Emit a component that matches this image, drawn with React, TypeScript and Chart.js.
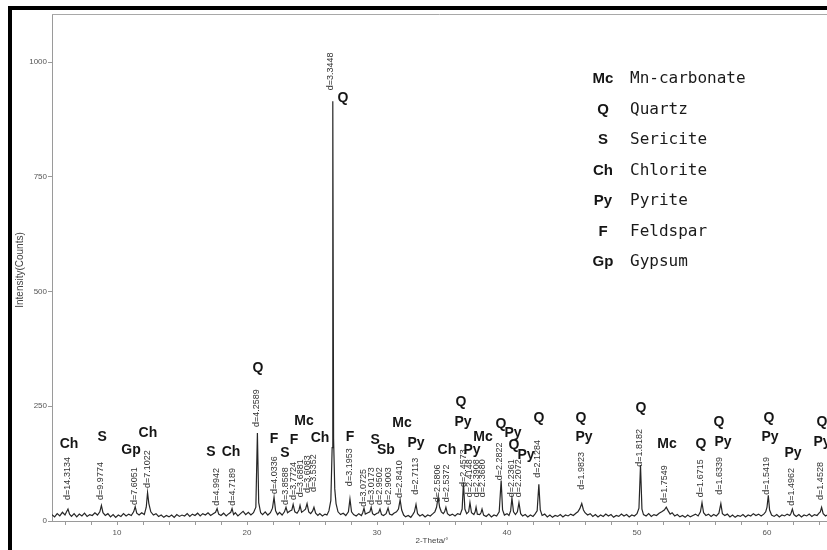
import React, { useEffect, useRef } from 'react';
import { Chart, registerables } from 'chart.js';

Chart.register(...registerables);

// XRD pattern: [2-theta (deg), intensity (counts)]
const xrdPattern: [number, number][] = [
  [5.0, 14], [5.2, 9], [5.4, 16], [5.6, 11], [5.8, 19], [6.0, 13], [6.12, 20], [6.23, 26], [6.35, 15], [6.5, 10],
  [6.7, 16], [6.9, 9], [7.1, 15], [7.3, 11], [7.5, 17], [7.7, 10], [7.9, 14], [8.1, 12], [8.3, 18], [8.5, 13],
  [8.68, 20], [8.8, 34], [8.92, 18], [9.1, 12], [9.3, 16], [9.5, 9], [9.7, 14], [9.9, 8], [10.1, 13], [10.3, 10],
  [10.5, 16], [10.7, 11], [10.9, 15], [11.1, 12], [11.28, 20], [11.4, 31], [11.52, 17], [11.7, 13], [11.9, 18], [12.1, 14],
  [12.25, 30], [12.35, 62], [12.45, 38], [12.6, 20], [12.8, 13], [13.0, 16], [13.2, 10], [13.4, 13], [13.6, 8], [13.8, 12],
  [14.0, 9], [14.2, 13], [14.4, 8], [14.6, 14], [14.8, 10], [15.0, 13], [15.2, 11], [15.4, 16], [15.6, 10], [15.8, 15],
  [16.0, 12], [16.2, 17], [16.4, 11], [16.6, 16], [16.8, 13], [17.0, 18], [17.2, 12], [17.4, 16], [17.58, 19], [17.7, 27],
  [17.82, 15], [18.0, 12], [18.2, 17], [18.4, 11], [18.6, 16], [18.75, 19], [18.85, 27], [18.97, 14], [19.1, 18], [19.3, 11],
  [19.5, 16], [19.7, 21], [19.9, 14], [20.1, 19], [20.3, 13], [20.5, 18], [20.68, 30], [20.8, 192], [20.9, 40], [21.05, 18],
  [21.2, 14], [21.4, 20], [21.6, 13], [21.8, 18], [21.96, 28], [22.08, 52], [22.2, 22], [22.35, 14], [22.5, 19], [22.7, 13],
  [22.88, 20], [23.0, 30], [23.12, 18], [23.3, 22], [23.45, 24], [23.55, 36], [23.68, 20], [23.85, 17], [24.0, 24], [24.08, 34],
  [24.2, 19], [24.35, 22], [24.5, 26], [24.62, 38], [24.75, 20], [24.9, 16], [25.05, 22], [25.15, 30], [25.28, 17], [25.45, 12],
  [25.6, 16], [25.8, 11], [26.0, 15], [26.15, 13], [26.3, 22], [26.45, 45], [26.55, 160], [26.6, 915], [26.66, 180], [26.75, 70],
  [26.85, 38], [27.0, 20], [27.2, 14], [27.4, 17], [27.6, 12], [27.8, 20], [27.92, 48], [28.04, 20], [28.2, 14], [28.4, 11],
  [28.6, 16], [28.8, 12], [28.9, 18], [29.0, 28], [29.1, 15], [29.3, 18], [29.45, 20], [29.55, 30], [29.66, 16], [29.8, 13],
  [30.0, 17], [30.12, 18], [30.23, 26], [30.35, 14], [30.5, 12], [30.7, 16], [30.85, 28], [30.97, 15], [31.15, 13], [31.3, 17],
  [31.5, 20], [31.65, 26], [31.78, 46], [31.9, 24], [32.05, 13], [32.2, 9], [32.4, 12], [32.6, 8], [32.75, 14], [32.88, 20],
  [33.0, 36], [33.12, 16], [33.3, 11], [33.5, 14], [33.7, 9], [33.9, 13], [34.1, 11], [34.3, 16], [34.45, 20], [34.58, 30],
  [34.7, 52], [34.82, 30], [34.95, 20], [35.1, 16], [35.2, 20], [35.3, 30], [35.42, 16], [35.6, 12], [35.8, 15], [36.0, 11],
  [36.2, 16], [36.4, 14], [36.55, 26], [36.65, 84], [36.76, 26], [36.9, 16], [37.05, 20], [37.15, 40], [37.27, 18], [37.45, 14],
  [37.55, 20], [37.62, 30], [37.72, 15], [37.9, 14], [38.0, 18], [38.08, 26], [38.2, 13], [38.4, 10], [38.6, 15], [38.8, 9],
  [39.0, 13], [39.2, 11], [39.4, 20], [39.55, 88], [39.66, 24], [39.8, 13], [40.0, 16], [40.15, 12], [40.28, 22], [40.38, 50],
  [40.5, 20], [40.65, 14], [40.8, 20], [40.92, 40], [41.05, 16], [41.2, 11], [41.4, 14], [41.6, 9], [41.8, 13], [42.0, 10],
  [42.15, 15], [42.32, 22], [42.45, 80], [42.56, 24], [42.7, 12], [42.9, 15], [43.1, 9], [43.3, 13], [43.5, 8], [43.7, 12],
  [43.9, 10], [44.1, 14], [44.3, 9], [44.5, 13], [44.7, 11], [44.9, 15], [45.1, 12], [45.3, 17], [45.45, 20], [45.6, 27],
  [45.75, 38], [45.88, 24], [46.0, 18], [46.2, 13], [46.4, 16], [46.6, 10], [46.8, 14], [47.0, 9], [47.2, 13], [47.4, 10],
  [47.6, 15], [47.8, 11], [48.0, 14], [48.2, 8], [48.4, 12], [48.6, 10], [48.8, 15], [49.0, 11], [49.2, 14], [49.4, 9],
  [49.6, 13], [49.8, 11], [50.0, 16], [50.15, 28], [50.27, 122], [50.38, 26], [50.5, 14], [50.7, 11], [50.9, 16], [51.1, 10],
  [51.3, 14], [51.5, 12], [51.7, 17], [51.9, 20], [52.1, 24], [52.25, 30], [52.4, 22], [52.55, 15], [52.7, 18], [52.9, 11],
  [53.1, 14], [53.3, 9], [53.5, 12], [53.7, 8], [53.9, 13], [54.1, 9], [54.3, 12], [54.5, 15], [54.7, 11], [54.88, 20],
  [55.0, 40], [55.12, 18], [55.3, 12], [55.5, 15], [55.7, 10], [55.9, 14], [56.1, 11], [56.3, 17], [56.45, 38], [56.57, 16],
  [56.75, 12], [56.95, 15], [57.15, 9], [57.35, 13], [57.55, 8], [57.75, 12], [57.95, 10], [58.15, 14], [58.35, 9], [58.55, 13],
  [58.75, 11], [58.95, 16], [59.15, 12], [59.35, 15], [59.55, 11], [59.75, 15], [59.9, 20], [60.0, 30], [60.1, 56], [60.2, 24],
  [60.35, 13], [60.55, 10], [60.75, 14], [60.95, 9], [61.15, 13], [61.35, 11], [61.55, 15], [61.75, 12], [61.85, 17], [61.95, 26],
  [62.07, 14], [62.25, 10], [62.45, 14], [62.65, 9], [62.85, 13], [63.05, 11], [63.25, 15], [63.45, 10], [63.65, 14], [63.85, 12],
  [64.0, 17], [64.1, 20], [64.2, 30], [64.32, 16], [64.5, 11], [64.7, 14],
];

const xTickValues = [6, 8, 10, 12, 14, 16, 18, 20, 22, 24, 26, 28, 30, 32, 34, 36, 38, 40, 42, 44, 46, 48, 50, 52, 54, 56, 58, 60, 62, 64];
const xLabelValues = [10, 20, 30, 40, 50, 60];
const yTickValues = [0, 250, 500, 750, 1000];

// d-spacing labels: [2-theta, count at text start, text]
const dLabels: [number, number, string][] = [
  [6.23, 46, 'd=14.3134'], [8.77, 46, 'd=9.9774'], [11.38, 35, 'd=7.6051'], [12.31, 72, 'd=7.1022'],
  [17.69, 33, 'd=4.9942'], [18.85, 33, 'd=4.7189'], [20.77, 205, 'd=4.2589'], [22.08, 59, 'd=4.0336'],
  [23.0, 35, 'd=3.8588'], [23.54, 46, 'd=3.7724'], [24.08, 52, 'd=3.6881'], [24.62, 61, 'd=3.6083'], [25.15, 63, 'd=3.5352'],
  [26.46, 939, 'd=3.3448'], [27.92, 76, 'd=3.1953'],
  [29.0, 31, 'd=3.0725'], [29.54, 35, 'd=3.0173'], [30.23, 35, 'd=2.9502'], [30.85, 35, 'd=2.9003'],
  [31.77, 50, 'd=2.8410'], [33.0, 57, 'd=2.7113'], [34.69, 41, 'd=2.5806'], [35.31, 41, 'd=2.5372'],
  [36.62, 74, 'd=2.4573'], [37.15, 52, 'd=2.4148'], [37.62, 52, 'd=2.3908'], [38.08, 52, 'd=2.3680'],
  [39.46, 89, 'd=2.2822'], [40.38, 52, 'd=2.2361'], [40.92, 52, 'd=2.2072'], [42.38, 94, 'd=2.1284'],
  [45.77, 68, 'd=1.9823'], [50.23, 118, 'd=1.8182'], [52.15, 39, 'd=1.7549'], [54.92, 52, 'd=1.6715'],
  [56.38, 57, 'd=1.6339'], [60.0, 57, 'd=1.5419'], [61.92, 33, 'd=1.4962'], [64.08, 46, 'd=1.4528'],
];

// phase tags: [code, 2-theta, count level]
const phaseTags: [string, number, number][] = [
  ['Ch', 6.31, 168], ['S', 8.85, 183], ['Gp', 11.08, 155], ['Ch', 12.38, 192],
  ['S', 17.23, 150], ['Ch', 18.77, 150], ['Q', 20.85, 333], ['F', 22.08, 179],
  ['S', 22.92, 148], ['F', 23.62, 176], ['Mc', 24.38, 218], ['Ch', 25.62, 181],
  ['Q', 27.38, 922], ['F', 27.92, 183], ['S', 29.85, 176], ['Sb', 30.69, 155],
  ['Mc', 31.92, 214], ['Py', 33.0, 170], ['Ch', 35.38, 155], ['Q', 36.46, 259],
  ['Py', 36.62, 216], ['Py', 37.31, 155], ['Mc', 38.15, 183], ['Q', 39.54, 211],
  ['Py', 40.46, 192], ['Q', 40.54, 166], ['Py', 41.46, 144], ['Q', 42.46, 224],
  ['Q', 45.69, 224], ['Py', 45.92, 183], ['Q', 50.31, 246], ['Mc', 52.31, 168],
  ['Q', 54.92, 168], ['Q', 56.31, 216], ['Py', 56.62, 172], ['Q', 60.15, 224],
  ['Py', 60.23, 183], ['Py', 62.0, 148], ['Q', 64.23, 216], ['Py', 64.23, 172],
];

const legendCodes = ['Mc', 'Q', 'S', 'Ch', 'Py', 'F', 'Gp'];
const legendNames = ['Mn-carbonate', 'Quartz', 'Sericite', 'Chlorite', 'Pyrite', 'Feldspar', 'Gypsum'];

const CANVAS_W = 819;
const CANVAS_H = 544;

const overlayPlugin = {
  id: 'xrdOverlay',
  beforeDraw(chart: any) {
    const ctx = chart.ctx;
    ctx.save();
    ctx.fillStyle = '#ffffff';
    ctx.fillRect(0, 0, chart.width, chart.height);
    ctx.restore();
  },
  afterDraw(chart: any) {
    const { ctx, chartArea } = chart;
    const xs = chart.scales.x;
    const ys = chart.scales.y;
    ctx.save();
    // outer black frame (left + top visible)
    ctx.fillStyle = '#000000';
    ctx.fillRect(0, 0, 4, chart.height);
    ctx.fillRect(0, 0, chart.width, 4);
    // top border of plot
    ctx.strokeStyle = '#a8a8a8';
    ctx.lineWidth = 1;
    ctx.beginPath();
    ctx.moveTo(chartArea.left, chartArea.top + 0.5);
    ctx.lineTo(chartArea.right, chartArea.top + 0.5);
    ctx.stroke();

    // d-spacing labels (vertical)
    ctx.font = '9px "Liberation Sans", Arial, sans-serif';
    ctx.fillStyle = '#333333';
    ctx.textAlign = 'left';
    ctx.textBaseline = 'middle';
    for (const [t, base, txt] of dLabels) {
      const px = xs.getPixelForValue(t);
      const py = ys.getPixelForValue(base);
      ctx.save();
      ctx.translate(px, py);
      ctx.rotate(-Math.PI / 2);
      ctx.fillText(txt, 0, 0);
      ctx.restore();
    }

    // phase tags
    ctx.font = 'bold 14px "Liberation Sans Narrow", "Liberation Sans", Arial, sans-serif';
    ctx.fillStyle = '#151515';
    ctx.textAlign = 'center';
    ctx.textBaseline = 'middle';
    for (const [txt, t, lvl] of phaseTags) {
      ctx.fillText(txt, xs.getPixelForValue(t), ys.getPixelForValue(lvl));
    }

    // legend block
    const codeX = chartArea.left + 551;
    const nameX = chartArea.left + 578;
    const rowY0 = chartArea.top + 65;
    const rowStep = 30.5;
    legendCodes.forEach((code, i) => {
      const yy = rowY0 + i * rowStep;
      ctx.font = 'bold 15px "Liberation Sans Narrow", "Liberation Sans", Arial, sans-serif';
      ctx.textAlign = 'center';
      ctx.fillStyle = '#151515';
      ctx.fillText(code, codeX, yy);
      ctx.font = '16px "DejaVu Sans Mono", monospace';
      ctx.textAlign = 'left';
      ctx.fillStyle = '#1a1a1a';
      ctx.fillText(legendNames[i], nameX, yy);
    });

    // axis titles
    ctx.fillStyle = '#444444';
    ctx.font = '10px "Liberation Sans", Arial, sans-serif';
    ctx.textAlign = 'center';
    ctx.textBaseline = 'middle';
    ctx.save();
    ctx.translate(12, 264);
    ctx.rotate(-Math.PI / 2);
    ctx.fillText('Intensity(Counts)', 0, 0);
    ctx.restore();
    ctx.font = '8px "Liberation Sans", Arial, sans-serif';
    ctx.fillText('2-Theta/°', 424, 535);
    ctx.restore();
  },
};

export default function App() {
  const canvasRef = useRef<HTMLCanvasElement | null>(null);

  useEffect(() => {
    if (!canvasRef.current) return;
    const chart = new Chart(canvasRef.current, {
      type: 'line',
      data: {
        datasets: [
          {
            data: xrdPattern.map(([t, c]) => ({ x: t, y: c })),
            borderColor: '#262626',
            borderWidth: 1.2,
            pointRadius: 0,
            fill: false,
            tension: 0,
          },
        ],
      },
      options: {
        animation: false,
        responsive: false,
        maintainAspectRatio: false,
        devicePixelRatio: 1,
        events: [],
        layout: { padding: { top: 8, left: 0, right: 0, bottom: 0 } },
        plugins: {
          legend: { display: false },
          tooltip: { enabled: false },
        },
        scales: {
          x: {
            type: 'linear',
            min: 5,
            max: 64.615,
            afterBuildTicks: (s: any) => {
              s.ticks = xTickValues.map((v) => ({ value: v }));
            },
            afterFit: (s: any) => {
              s.height = 29;
            },
            ticks: {
              autoSkip: false,
              maxRotation: 0,
              padding: 3,
              color: '#555555',
              font: { size: 8, family: '"Liberation Sans", Arial, sans-serif' },
              callback: (v: any) => (xLabelValues.includes(Number(v)) ? String(v) : ''),
            },
            grid: { display: true, drawOnChartArea: false, drawTicks: true, tickLength: 4, color: '#9a9a9a' },
            border: { display: true, color: '#9a9a9a', width: 1 },
          },
          y: {
            type: 'linear',
            min: 0,
            max: 1105,
            afterBuildTicks: (s: any) => {
              s.ticks = yTickValues.map((v) => ({ value: v }));
            },
            afterFit: (s: any) => {
              s.width = 44;
            },
            ticks: {
              padding: 1,
              color: '#555555',
              font: { size: 8, family: '"Liberation Sans", Arial, sans-serif' },
              callback: (v: any) => String(v),
            },
            grid: { display: true, drawOnChartArea: false, drawTicks: true, tickLength: 4, color: '#9a9a9a' },
            border: { display: true, color: '#9a9a9a', width: 1 },
          },
        },
      },
      plugins: [overlayPlugin],
    });
    return () => chart.destroy();
  }, []);

  return (
    <div style={{ position: 'fixed', left: 8, top: 6, width: CANVAS_W, height: CANVAS_H, background: '#fff' }}>
      <canvas ref={canvasRef} width={CANVAS_W} height={CANVAS_H} style={{ display: 'block' }} />
    </div>
  );
}
